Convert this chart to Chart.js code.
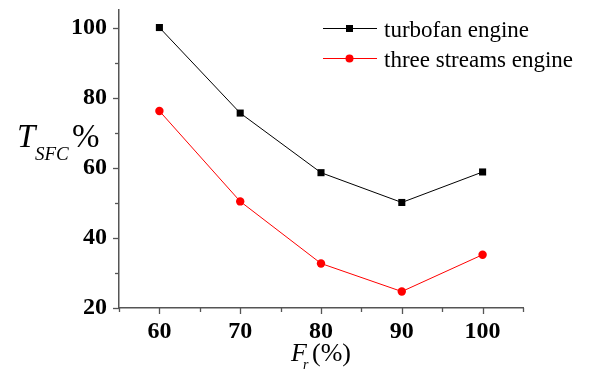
<!DOCTYPE html>
<html>
<head>
<meta charset="utf-8">
<script src="https://cdn.jsdelivr.net/npm/chart.js@4/dist/chart.umd.min.js"></script>
<style>
  html, body { margin: 0; padding: 0; background: #fff; }
  #wrap { width: 591px; height: 369px; position: relative; }
</style>
</head>
<body>
<div id="wrap"><canvas id="grafico"></canvas></div>
<script>
// F_r (%) and T_SFC (%) values
const fr = [60, 70, 80, 90, 100]
const turbofan = [100, 75.6, 58.6, 50.1, 58.8]
const threeStreams = [76.2, 50.4, 32.7, 24.7, 35.2]

const xTicks = [60, 70, 80, 90, 100]
const yTicks = [20, 40, 60, 80, 100]
const seriesNames = ['turbofan engine', 'three streams engine']

const serif = "'Liberation Serif', 'Times New Roman', serif"
const axisColor = '#555'

// tick marks (major + minor) and the axis titles / legend
const extras = {
    id: 'extras',
    afterDraw(chart) {
        const ctx = chart.ctx
        const xs = chart.scales.x
        const ys = chart.scales.y
        const x0 = xs.left
        const y0 = ys.bottom
        ctx.save()
        ctx.strokeStyle = axisColor
        ctx.lineWidth = 1.3
        for (let v = 20; v <= 100; v += 10) {
            const py = Math.round(ys.getPixelForValue(v)) + 0.5
            const len = v % 20 === 0 ? 6 : 4
            ctx.beginPath(); ctx.moveTo(x0, py); ctx.lineTo(x0 - len, py); ctx.stroke()
        }
        for (let v = 55; v <= 105; v += 5) {
            const px = Math.round(xs.getPixelForValue(v)) + 0.5
            const len = v % 10 === 0 ? 6 : 4
            ctx.beginPath(); ctx.moveTo(px, y0); ctx.lineTo(px, y0 + len); ctx.stroke()
        }

        // y title: T_SFC %
        ctx.fillStyle = '#000'
        ctx.textBaseline = 'alphabetic'
        ctx.textAlign = 'left'
        ctx.font = 'italic 33px ' + serif
        ctx.fillText('T', 17, 147)
        ctx.font = 'italic 19px ' + serif
        ctx.fillText('SFC', 35, 160)
        ctx.font = '33px ' + serif
        ctx.fillText('%', 72, 147)

        // x title: F_r(%)
        ctx.font = 'italic 26px ' + serif
        ctx.fillText('F', 291, 361)
        ctx.font = 'italic 14px ' + serif
        ctx.fillText('r', 303, 369)
        ctx.font = '26px ' + serif
        ctx.fillText('(%)', 312, 361)

        // legend
        const ds = chart.data.datasets
        const rows = [28.5, 58.5]
        ds.forEach((d, i) => {
            const y = rows[i]
            ctx.strokeStyle = d.borderColor
            ctx.lineWidth = 1
            ctx.beginPath(); ctx.moveTo(323, y); ctx.lineTo(377, y); ctx.stroke()
            ctx.fillStyle = d.pointBackgroundColor
            if (d.pointStyle === 'rect') {
                ctx.fillRect(346, y - 3.5, 7, 7)
            } else {
                ctx.beginPath(); ctx.arc(349.5, y, 4, 0, Math.PI * 2); ctx.fill()
            }
            ctx.fillStyle = '#000'
            ctx.font = '23px ' + serif
            ctx.fillText(seriesNames[i], 384, y + 8)
        })
        ctx.restore()
    }
}

let grafico = new Chart(document.getElementById('grafico'), {
    type: 'line',
    data: {
        datasets: [
            {
                label: seriesNames[0],
                data: fr.map((v, i) => ({ x: v, y: turbofan[i] })),
                borderColor: '#000',
                borderWidth: 1,
                pointStyle: 'rect',
                pointRadius: 5,
                pointBackgroundColor: '#000',
                pointBorderWidth: 0
            },
            {
                label: seriesNames[1],
                data: fr.map((v, i) => ({ x: v, y: threeStreams[i] })),
                borderColor: '#ff0000',
                borderWidth: 1,
                pointStyle: 'circle',
                pointRadius: 4.2,
                pointBackgroundColor: '#ff0000',
                pointBorderWidth: 0
            }
        ]
    },
    options: {
        responsive: true,
        maintainAspectRatio: false,
        animation: false,
        layout: { padding: { left: 0, top: 10, right: 68, bottom: 0 } },
        plugins: { legend: { display: false }, tooltip: { enabled: false } },
        scales: {
            x: {
                type: 'linear',
                min: 55,
                max: 105,
                afterBuildTicks: s => { s.ticks = xTicks.map(v => ({ value: v })) },
                afterFit: s => { s.height = 61; s.paddingLeft = 0; s.paddingRight = 0 },
                grid: { display: false },
                border: { display: true, color: axisColor, width: 1.5 },
                ticks: { color: '#000', padding: 1, font: { family: serif, size: 24, weight: 'bold' } }
            },
            y: {
                min: 20,
                max: 105,
                afterBuildTicks: s => { s.ticks = yTicks.map(v => ({ value: v })) },
                afterFit: s => { s.width = 119; s.paddingTop = 0; s.paddingBottom = 0 },
                grid: { display: false },
                border: { display: true, color: axisColor, width: 1.5 },
                ticks: { color: '#000', padding: 4, font: { family: serif, size: 24, weight: 'bold' } }
            }
        }
    },
    plugins: [extras]
})
</script>
</body>
</html>
